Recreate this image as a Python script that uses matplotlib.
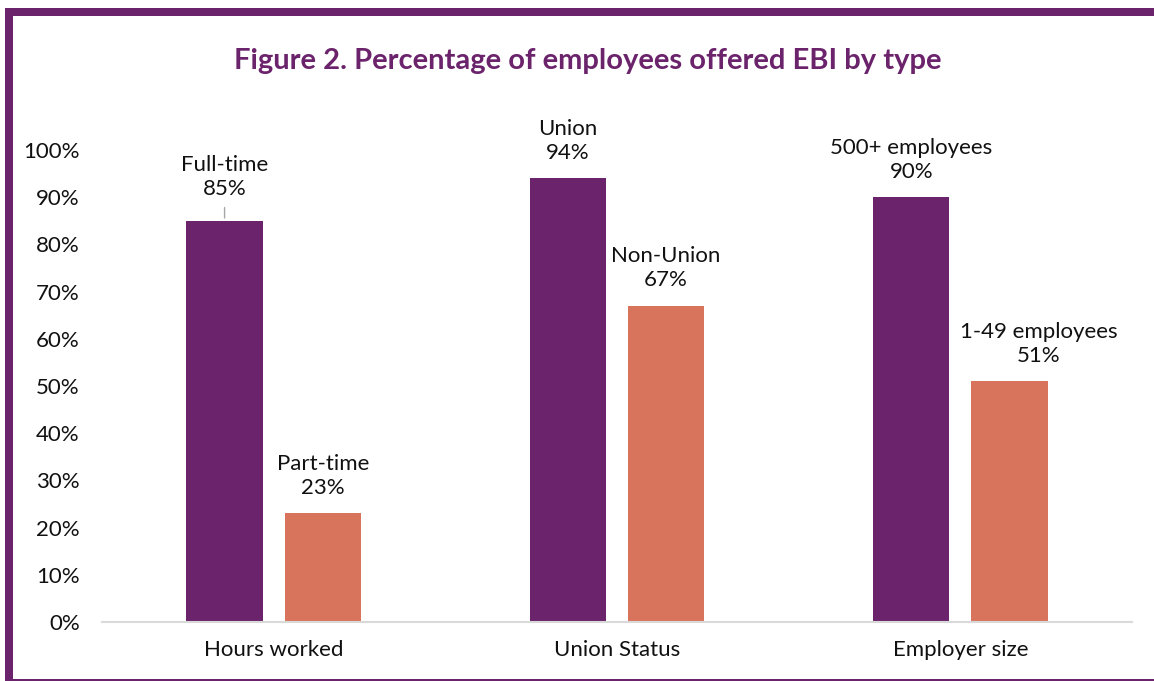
import matplotlib.pyplot as plt
from matplotlib.patches import Rectangle

plt.rcParams['font.family'] = ['Lato', 'DejaVu Sans']

# data
categories = ["Hours worked", "Union Status", "Employer size"]
first_names = ["Full-time", "Union", "500+ employees"]
first_values = [85, 94, 90]
second_names = ["Part-time", "Non-Union", "1-49 employees"]
second_values = [23, 67, 51]
yticks = [0, 10, 20, 30, 40, 50, 60, 70, 80, 90, 100]

purple = "#6B246B"
orange = "#D9745C"

W, H = 1154, 681
fig = plt.figure(figsize=(11.54, 6.81), dpi=100)

# purple frame in pixel coords: top and left thick, thin bottom, right cut off
bg = fig.add_axes([0, 0, 1, 1])
bg.set_xlim(0, W)
bg.set_ylim(H, 0)
bg.axis("off")
bg.add_patch(Rectangle((5, 8), W - 5, 8, color=purple, lw=0))
bg.add_patch(Rectangle((5, 8), 8, H - 8, color=purple, lw=0))
bg.add_patch(Rectangle((5, 679), W - 5, 2, color=purple, lw=0))

ax = fig.add_axes([102 / W, 59 / H, 1030 / W, 472 / H])

x = range(len(categories))
w = 0.222
off = 0.143
ax.bar([i - off for i in x], first_values, w, color=purple)
ax.bar([i + off for i in x], second_values, w, color=orange)

ax.set_xlim(-0.5, 2.5)
ax.set_ylim(0, 100)
ax.set_yticks(yticks)
ax.set_yticklabels([f"{v}%" for v in yticks], fontsize=16, color="#111111")
ax.set_xticks(list(x))
ax.set_xticklabels(categories, fontsize=16, color="#111111")
ax.tick_params(axis="both", length=0)
ax.tick_params(axis="y", pad=16)
ax.tick_params(axis="x", pad=13)
for s in ["top", "right", "left"]:
    ax.spines[s].set_visible(False)
ax.spines["bottom"].set_color("#D9D9D9")
ax.spines["bottom"].set_linewidth(1.5)

# data labels
for i in x:
    for xpos, name, val in [(i - off, first_names[i], first_values[i]),
                            (i + off, second_names[i], second_values[i])]:
        gap = 11
        dx = 0
        if name == "Full-time":
            gap = 15.5
        if name == "1-49 employees":
            dx = 21
        ax.annotate(f"{name}\n{val}%", (xpos, val), xytext=(dx, gap),
                    textcoords="offset points", ha="center", va="bottom",
                    fontsize=16, color="#111111", linespacing=1.25,
                    annotation_clip=False)
        if name == "Full-time":
            ax.annotate("", (xpos, val), xytext=(xpos, val + 3.4),
                        arrowprops=dict(arrowstyle="-", color="#A6A6A6", lw=1))

fig.text(0.509, 0.910, "Figure 2. Percentage of employees offered EBI by type",
         ha="center", va="center", fontsize=21, fontweight="bold", color=purple)

fig.savefig("out.png", dpi=100)
